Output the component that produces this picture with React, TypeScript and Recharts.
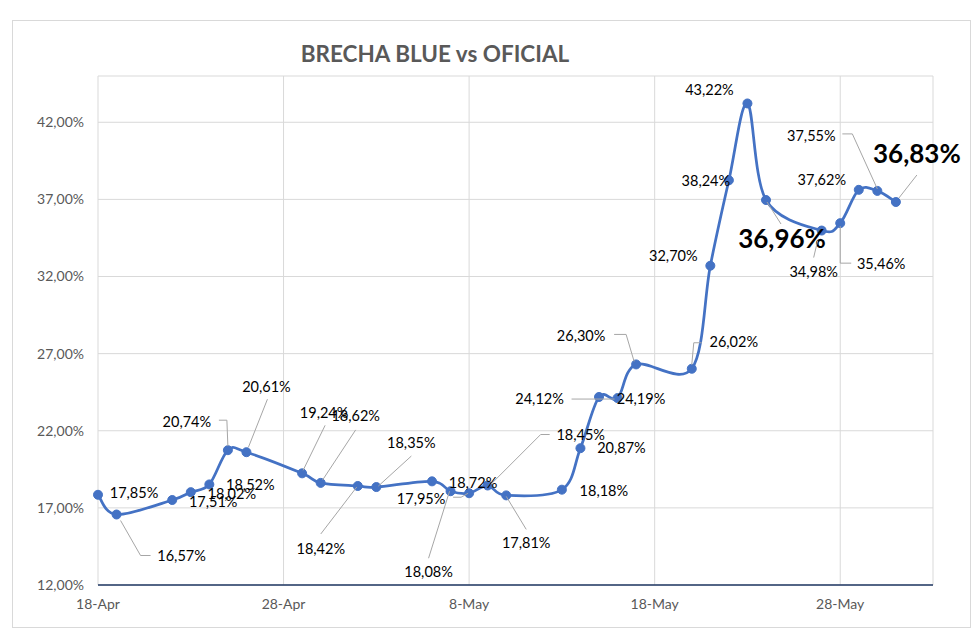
import React from "react"
import { LineChart, Line, XAxis, YAxis, CartesianGrid, LabelList, ReferenceLine } from "recharts"

// fechas (dia-mes) y brecha en %
const fechas = [
  "18-Apr", "19-Apr", "22-Apr", "23-Apr", "24-Apr", "25-Apr", "26-Apr", "29-Apr", "30-Apr",
  "2-May", "3-May", "6-May", "7-May", "8-May", "9-May", "10-May", "13-May", "14-May", "15-May",
  "16-May", "17-May", "20-May", "21-May", "22-May", "23-May", "24-May", "27-May", "28-May",
  "29-May", "30-May", "31-May",
]
const brecha = [
  17.85, 16.57, 17.51, 18.02, 18.52, 20.74, 20.61, 19.24, 18.62,
  18.42, 18.35, 18.72, 18.08, 17.95, 18.45, 17.81, 18.18, 20.87, 24.19,
  24.12, 26.3, 26.02, 32.7, 38.24, 43.22, 36.96, 34.98, 35.46,
  37.62, 37.55, 36.83,
]
const xTicks = ["18-Apr", "28-Apr", "8-May", "18-May", "28-May", "2-Jun"]
const yTicks = [12, 17, 22, 27, 32, 37, 42]

const MONTHS: Record<string, number> = { Apr: 3, May: 4, Jun: 5 }
const toDay = (s: string) => {
  const [d, m] = s.split("-")
  return Math.round((Date.UTC(2024, MONTHS[m], +d) - Date.UTC(2024, 3, 18)) / 86400000)
}

const data = fechas.map((f, i) => ({ day: toDay(f), fecha: f, value: brecha[i] }))

// label placement like the excel sheet: [dx, dy, leader points, big]
type Lay = [number, number, [number, number][]?, boolean?]
const labelLayout: Lay[] = [
  [36, -2],
  [65, 41, [[4, 6], [24, 41], [34, 41]]],
  [41, 1],
  [41, 1],
  [41, 0],
  [-41, -29, [[-9, -30], [-1, -30], [0, -4]]],
  [20, -66, [[21, -53], [2, -5]]],
  [22, -61, [[23, -48], [1, -3]]],
  [35, -67, [[35, -53], [2, -3]]],
  [-37, 63, [[-37, 48], [-1, 1]]],
  [35, -45, [[35, -31], [2, -1]]],
  [41, 1],
  [-22, 80, [[-22, 67], [-1, 0]]],
  [-48, 5, [[-16, 4], [-8, 4], [-1, 0]]],
  [93, -51, [[62, -51], [53, -51], [3, -1]]],
  [20, 47, [[20, 34], [0, 1]]],
  [42, 1],
  [41, -1],
  [42, 2],
  [-78, 0, [[-46, 1], [-3, 1]]],
  [-55, -29, [[-22, -30], [-10, -30], [-2, -3]]],
  [42, -27, [[10, -26], [2, -26], [0, -4]]],
  [-37, -10],
  [-23, 0],
  [-38, -14],
  [16, 38, [[1, 2], [15, 24]], true],
  [-8, 41, [[-8, 27], [-4, 10]]],
  [41, 40, [[0, 3], [0, 40], [11, 40]]],
  [-37, -10],
  [-66, -55, [[-35, -57], [-25, -57], [0, -2]]],
  [21, -49, [[21, -27], [3, -4]], true],
]

const fmt = (v: number) => v.toFixed(2).replace(".", ",") + "%"

// excel style smoothing (catmull-rom as bezier)
function excelCurve(ctx: any) {
  let pts: number[][] = []
  return {
    areaStart() {},
    areaEnd() {},
    lineStart() { pts = [] },
    point(x: number, y: number) { pts.push([+x, +y]) },
    lineEnd() {
      const n = pts.length
      if (!n) return
      ctx.moveTo(pts[0][0], pts[0][1])
      for (let i = 0; i < n - 1; i++) {
        const p0 = pts[Math.max(i - 1, 0)]
        const p1 = pts[i]
        const p2 = pts[i + 1]
        const p3 = pts[Math.min(i + 2, n - 1)]
        ctx.bezierCurveTo(
          p1[0] + (p2[0] - p0[0]) / 6, p1[1] + (p2[1] - p0[1]) / 6,
          p2[0] - (p3[0] - p1[0]) / 6, p2[1] - (p3[1] - p1[1]) / 6,
          p2[0], p2[1]
        )
      }
    },
  }
}

const renderLabel = (props: any) => {
  const { x, y, index, value } = props
  const lay = labelLayout[index]
  if (!lay) return null
  const [dx, dy, leader, big] = lay
  return (
    <g key={`lbl-${index}`}>
      {leader && (
        <polyline
          points={leader.map(([a, b]) => `${x + a},${y + b}`).join(" ")}
          fill="none"
          stroke="#A6A6A6"
          strokeWidth={1}
        />
      )}
      <text
        x={x + dx}
        y={y + dy}
        textAnchor="middle"
        dominantBaseline="central"
        fontFamily="Lato, sans-serif"
        fontSize={big ? 26 : 14.5}
        fontWeight={big ? 700 : 400}
        fill="#000"
      >
        {fmt(value)}
      </text>
    </g>
  )
}

export default function App() {
  return (
    <div style={{ position: "absolute", left: 0, top: 0, width: 980, height: 641, background: "#fff" }}>
      <div
        style={{
          position: "absolute", left: 12, top: 20, width: 957, height: 606,
          border: "1px solid #D9D9D9",
        }}
      />
      <div
        style={{
          position: "absolute", left: 235, width: 400, top: 40, textAlign: "center",
          fontFamily: "Lato, sans-serif", fontWeight: 700, fontSize: 22.5, color: "#595959",
        }}
      >
        BRECHA BLUE vs OFICIAL
      </div>
      <LineChart
        width={980}
        height={641}
        data={data}
        margin={{ top: 76, right: 47, bottom: 0, left: 8 }}
        style={{ position: "absolute", left: 0, top: 0 }}
      >
        <CartesianGrid stroke="#D9D9D9" strokeWidth={1} vertical horizontal />
        <XAxis
          dataKey="day"
          type="number"
          domain={[0, 45]}
          ticks={xTicks.slice(0, 5).map(toDay)}
          tickFormatter={(d: number) => xTicks.find((t) => toDay(t) === d) || ""}
          axisLine={false}
          tickLine={false}
          tickSize={6}
          tickMargin={8}
          height={56}
          tick={{ fill: "#595959", fontSize: 14, fontFamily: "Lato, sans-serif" }}
        />
        <YAxis
          type="number"
          domain={[12, 45]}
          ticks={yTicks}
          allowDataOverflow
          tickFormatter={(v: number) => v.toFixed(2).replace(".", ",") + "%"}
          axisLine={false}
          tickLine={false}
          tickSize={6}
          tickMargin={8}
          width={90}
          tick={{ fill: "#595959", fontSize: 14, fontFamily: "Lato, sans-serif" }}
        />
        <ReferenceLine y={12} stroke="#203864" strokeWidth={1.5} />
        <Line
          dataKey="value"
          type={excelCurve as any}
          stroke="#4472C4"
          strokeWidth={2.75}
          dot={{ r: 4.5, fill: "#4472C4", stroke: "#4472C4", strokeWidth: 1 }}
          activeDot={false}
          isAnimationActive={false}
        >
          <LabelList dataKey="value" content={renderLabel} />
        </Line>
      </LineChart>
    </div>
  )
}
